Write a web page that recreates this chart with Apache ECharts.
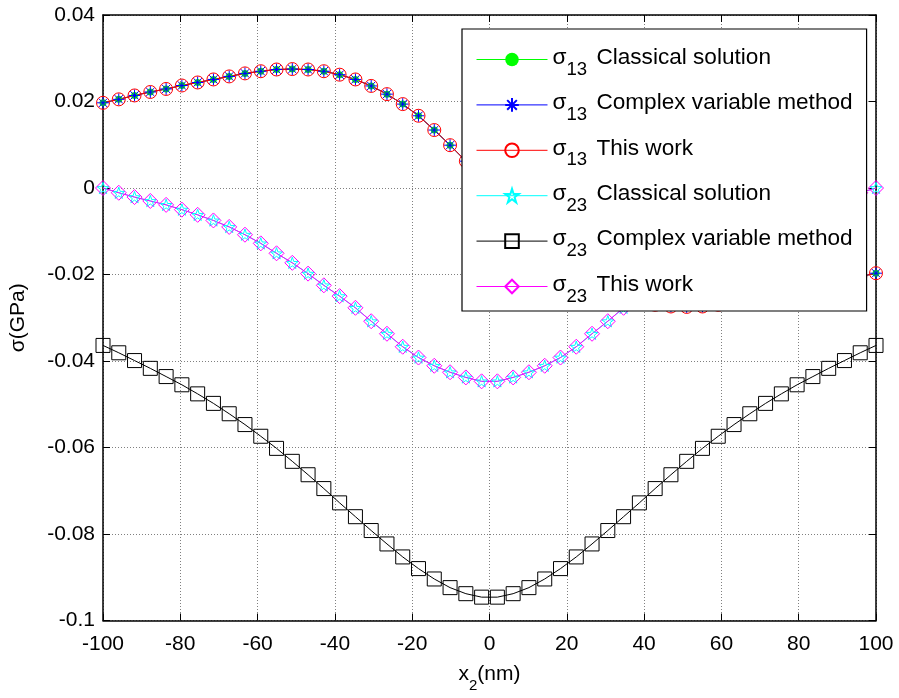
<!DOCTYPE html>
<html><head><meta charset="utf-8">
<script src="https://cdn.jsdelivr.net/npm/echarts@6/dist/echarts.min.js"></script>
<style>html,body{margin:0;padding:0;background:#fff;}#c{width:899px;height:698px;}</style>
</head><body><div id="c"></div>
<script>
// x2 positions (nm)
const xValues = [-100, -95.92, -91.84, -87.76, -83.67, -79.59, -75.51, -71.43, -67.35, -63.27,
  -59.18, -55.10, -51.02, -46.94, -42.86, -38.78, -34.69, -30.61, -26.53, -22.45,
  -18.37, -14.29, -10.20, -6.12, -2.04, 2.04, 6.12, 10.20, 14.29, 18.37,
  22.45, 26.53, 30.61, 34.69, 38.78, 42.86, 46.94, 51.02, 55.10, 59.18,
  63.27, 67.35, 71.43, 75.51, 79.59, 83.67, 87.76, 91.84, 95.92, 100];
// sigma13 (GPa) – classical / complex variable / this work coincide
const sigma13 = [0.0197, 0.0205, 0.0214, 0.0222, 0.0229, 0.0237, 0.0244, 0.0251, 0.0258, 0.0265,
  0.0270, 0.0274, 0.0275, 0.0274, 0.0270, 0.0262, 0.0251, 0.0236, 0.0217, 0.0194,
  0.0167, 0.0134, 0.0099, 0.0062, 0.0021, -0.0021, -0.0062, -0.0099, -0.0134, -0.0167,
  -0.0194, -0.0217, -0.0236, -0.0251, -0.0262, -0.0270, -0.0274, -0.0275, -0.0274, -0.0270,
  -0.0265, -0.0258, -0.0251, -0.0244, -0.0237, -0.0229, -0.0222, -0.0214, -0.0205, -0.0197];
// sigma23 (GPa) – classical / this work
const sigma23 = [0, -0.0011, -0.0021, -0.0030, -0.0039, -0.0050, -0.0062, -0.0075, -0.0090, -0.0108,
  -0.0128, -0.0151, -0.0173, -0.0198, -0.0225, -0.0250, -0.0277, -0.0308, -0.0337, -0.0367,
  -0.0392, -0.0411, -0.0426, -0.0438, -0.0447, -0.0447, -0.0438, -0.0426, -0.0411, -0.0392,
  -0.0367, -0.0337, -0.0308, -0.0277, -0.0250, -0.0225, -0.0198, -0.0173, -0.0151, -0.0128,
  -0.0108, -0.0090, -0.0075, -0.0062, -0.0050, -0.0039, -0.0030, -0.0021, -0.0011, 0];
// sigma23 (GPa) – complex variable method
const sigma23Complex = [-0.0364, -0.0381, -0.0399, -0.0417, -0.0436, -0.0455, -0.0476, -0.0498, -0.0522, -0.0547,
  -0.0574, -0.0602, -0.0632, -0.0663, -0.0695, -0.0728, -0.0760, -0.0792, -0.0823, -0.0853,
  -0.0880, -0.0904, -0.0924, -0.0938, -0.0946, -0.0946, -0.0938, -0.0924, -0.0904, -0.0880,
  -0.0853, -0.0823, -0.0792, -0.0760, -0.0728, -0.0695, -0.0663, -0.0632, -0.0602, -0.0574,
  -0.0547, -0.0522, -0.0498, -0.0476, -0.0455, -0.0436, -0.0417, -0.0399, -0.0381, -0.0364];
const seriesNames = ['σ13 Classical solution', 'σ13 Complex variable method', 'σ13 This work',
  'σ23 Classical solution', 'σ23 Complex variable method', 'σ23 This work'];
const xTicks = [-100, -80, -60, -40, -20, 0, 20, 40, 60, 80, 100];
const yTicks = [0.04, 0.02, 0, -0.02, -0.04, -0.06, -0.08, -0.1];

const F = '"Liberation Sans", Arial, Helvetica, sans-serif';
const pairs = ys => xValues.map((x, i) => [x, ys[i]]);
const asterisk = 'path://M5,0L5,10M0,5L10,5M1.46,1.46L8.54,8.54M1.46,8.54L8.54,1.46';
const star = 'path://M5,0L6.12,3.45L9.76,3.45L6.82,5.59L7.94,9.05L5,6.91L2.06,9.05L3.18,5.59L0.24,3.45L3.88,3.45Z';

function mk(name, ys, color, symbol, size, filled) {
  return {
    name, type: 'line', data: pairs(ys), symbol, symbolSize: size, symbolKeepAspect: true,
    showSymbol: true, showAllSymbol: true, clip: false, color,
    lineStyle: { color, width: 1 },
    itemStyle: { color: filled ? color : 'rgba(0,0,0,0)', borderColor: color, borderWidth: filled ? 0 : 1 },
    emphasis: { disabled: true }, z: 2
  };
}

const chart = echarts.init(document.getElementById('c'), null, { renderer: 'canvas' });
const axisLineStyle = { color: '#000', width: 1.5 };
const tickStyle = { show: true, inside: true, length: 7, lineStyle: { color: '#000', width: 1 } };
chart.setOption({
  animation: false,
  backgroundColor: '#fff',
  grid: { left: 103, right: 23, top: 15, bottom: 72, containLabel: false },
  xAxis: [{
    type: 'value', min: xTicks[0], max: xTicks[xTicks.length - 1], interval: 20, position: 'bottom',
    axisLine: { show: true, onZero: false, lineStyle: axisLineStyle },
    axisTick: tickStyle,
    axisLabel: { fontFamily: F, fontSize: 21, color: '#000', margin: 13 },
    splitLine: { show: true, lineStyle: { color: '#808080', type: [1, 2], width: 1 } },
    name: '{a|x}{b|2}{a|(nm)}', nameLocation: 'middle', nameGap: 46,
    nameTextStyle: { fontFamily: F, fontSize: 21, color: '#000', rich: {
      a: { fontFamily: F, fontSize: 21, color: '#000', lineHeight: 24, padding: [0, 0, 8, 0] },
      b: { fontFamily: F, fontSize: 15, color: '#000', lineHeight: 18, padding: [14, 0, 0, 0] } } }
  }, {
    type: 'value', min: xTicks[0], max: xTicks[xTicks.length - 1], interval: 20, position: 'top',
    axisLine: { show: true, onZero: false, lineStyle: axisLineStyle },
    axisTick: tickStyle,
    axisLabel: { show: false }, splitLine: { show: false }
  }],
  yAxis: [{
    type: 'value', min: yTicks[yTicks.length - 1], max: yTicks[0], interval: 0.02, position: 'left',
    axisLine: { show: true, onZero: false, lineStyle: axisLineStyle },
    axisTick: tickStyle,
    axisLabel: { fontFamily: F, fontSize: 21, color: '#000', margin: 8,
      formatter: v => String(Math.round(v * 100) / 100) },
    splitLine: { show: true, lineStyle: { color: '#808080', type: [1, 2], width: 1 } },
    name: 'σ(GPa)', nameLocation: 'middle', nameRotate: 90, nameGap: 74,
    nameTextStyle: { fontFamily: F, fontSize: 21, color: '#000' }
  }, {
    type: 'value', min: yTicks[yTicks.length - 1], max: yTicks[0], interval: 0.02, position: 'right',
    axisLine: { show: true, onZero: false, lineStyle: axisLineStyle },
    axisTick: tickStyle,
    axisLabel: { show: false }, splitLine: { show: false }
  }],
  legend: {
    orient: 'vertical', left: 462, top: 29, data: seriesNames, selectedMode: false,
    backgroundColor: '#fff', borderColor: '#000', borderWidth: 1.2, borderRadius: 0,
    padding: [11, 14, 5, 14], itemGap: 6.4, itemWidth: 71, itemHeight: 17,
    lineStyle: { width: 1 },
    formatter: name => {
      const m = name.match(/^σ(\d+) (.*)$/);
      return '{g|σ}{b|' + m[1] + '}{g| ' + m[2] + '}';
    },
    textStyle: { fontFamily: F, fontSize: 22.6, color: '#000', rich: {
      g: { fontFamily: F, fontSize: 22.6, color: '#000', lineHeight: 26, padding: [4, 0, 8, 0] },
      b: { fontFamily: F, fontSize: 18.6, color: '#000', lineHeight: 18, padding: [20, 3, 0, 0] } } },
    z: 10
  },
  series: [
    mk(seriesNames[0], sigma13, '#00ff00', 'circle', 7, true),
    mk(seriesNames[1], sigma13, '#0000ff', asterisk, 12, false),
    mk(seriesNames[2], sigma13, '#ff0000', 'circle', 13, false),
    mk(seriesNames[3], sigma23, '#00ffff', star, 12, false),
    mk(seriesNames[4], sigma23Complex, '#000000', 'rect', 14, false),
    mk(seriesNames[5], sigma23, '#ff00ff', 'diamond', 15, false)
  ]
});
</script></body></html>
